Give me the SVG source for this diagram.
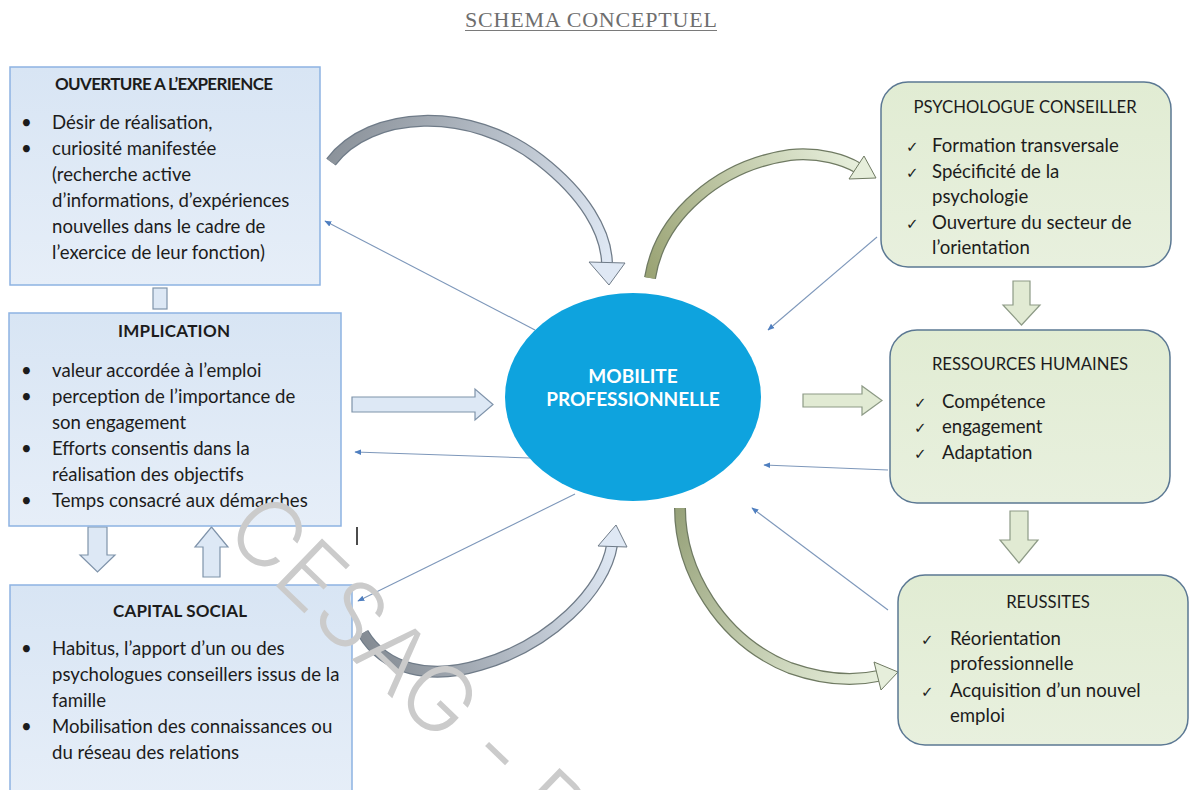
<svg xmlns="http://www.w3.org/2000/svg" width="1192" height="790" viewBox="0 0 1192 790">
  <style>
    .txt { font-family: Lato, "Liberation Sans", sans-serif; font-size: 18.6px; fill: #1c1c1c; }
    .ttl { font-family: Lato, "Liberation Sans", sans-serif; font-size: 17px; font-weight: bold; fill: #1c1c1c; }
    .rttl { font-family: Lato, "Liberation Sans", sans-serif; font-size: 16.7px; fill: #1c1c1c; }
    .chk { font-family: "DejaVu Sans", sans-serif; font-size: 15px; fill: #1c1c1c; }
    .lbox { fill: url(#blueFill); stroke: #8db3e2; stroke-width: 1.5; }
    .rbox { fill: url(#greenFill); stroke: #5b7893; stroke-width: 1.5; }
    .barrow-b { fill: #dde8f5; stroke: #7f93aa; stroke-width: 1.2; }
    .barrow-g { fill: #e1ead3; stroke: #8d9a86; stroke-width: 1.2; }
    .thin { fill: none; stroke: #7d97ba; stroke-width: 1.1; marker-end: url(#tip); }
    .wm { font-family: Inter, Roboto, "Liberation Sans", sans-serif; font-weight: 300; font-size: 91px; fill: #cbcbcb; }
  </style>
  <defs>
    <linearGradient id="blueFill" x1="0" y1="0" x2="0" y2="1">
      <stop offset="0" stop-color="#d8e5f4"/>
      <stop offset="1" stop-color="#e6eef8"/>
    </linearGradient>
    <linearGradient id="greenFill" x1="0" y1="0" x2="0" y2="1">
      <stop offset="0" stop-color="#e1ecd3"/>
      <stop offset="1" stop-color="#e8f0de"/>
    </linearGradient>
    <linearGradient id="gA" gradientUnits="userSpaceOnUse" x1="331" y1="160" x2="607" y2="262">
      <stop offset="0" stop-color="#8c939b"/>
      <stop offset="1" stop-color="#dfe8f4"/>
    </linearGradient>
    <linearGradient id="gB" gradientUnits="userSpaceOnUse" x1="650" y1="278" x2="858" y2="168">
      <stop offset="0" stop-color="#9aa374"/>
      <stop offset="1" stop-color="#e6eedb"/>
    </linearGradient>
    <linearGradient id="gC" gradientUnits="userSpaceOnUse" x1="363" y1="633" x2="612" y2="545">
      <stop offset="0" stop-color="#858c94"/>
      <stop offset="1" stop-color="#dfe8f4"/>
    </linearGradient>
    <linearGradient id="gD" gradientUnits="userSpaceOnUse" x1="680" y1="508" x2="878" y2="676">
      <stop offset="0" stop-color="#97a27a"/>
      <stop offset="1" stop-color="#e6eedb"/>
    </linearGradient>
    <marker id="tip" viewBox="0 0 10 10" refX="9" refY="5" markerWidth="7" markerHeight="7" orient="auto" markerUnits="userSpaceOnUse">
      <path d="M0,1 L10,5 L0,9 Z" fill="#4f7fc0"/>
    </marker>
  </defs>

  <rect x="0" y="0" width="1192" height="790" fill="#ffffff"/>

  <!-- heading -->
  <g id="heading">
    <text x="591" y="27" text-anchor="middle" textLength="252" font-family="'Liberation Serif', serif" font-size="22" fill="#6e6e6e">SCHEMA CONCEPTUEL</text>
    <line x1="465" y1="30.5" x2="717" y2="30.5" stroke="#7a7a7a" stroke-width="1"/>
  </g>

  <!-- connectors -->
  <g id="connectors">
    <!-- thin feedback arrows -->
    <path class="thin" d="M535,330 L325,221"/>
    <path class="thin" d="M877,237 L768,330"/>
    <path class="thin" d="M530,458 L355,452"/>
    <path class="thin" d="M888,470 L764,465"/>
    <path class="thin" d="M575,494 L358,601"/>
    <path class="thin" d="M888,610 L752,508"/>

    <!-- straight block arrows -->
    <polygon class="barrow-b" points="352,397 475,397 475,389 493,404.5 475,420 475,412 352,412"/>
    <polygon class="barrow-g" points="803,394 862,394 862,386 882,400.5 862,415 862,407 803,407"/>
    <polygon class="barrow-g" points="1013,281 1030,281 1030,305 1040,305 1021.5,325 1003,305 1013,305"/>
    <polygon class="barrow-g" points="1010,511 1028,511 1028,540 1038,540 1019,563 1000,540 1010,540"/>
    <polygon class="barrow-b" points="88,527 107,527 107,555 115,555 97.5,572 80,555 88,555"/>
    <polygon class="barrow-b" points="203,577 220,577 220,547 228,547 211.5,527 195,547 203,547"/>
    <rect class="barrow-b" x="153" y="288" width="14" height="21"/>

    <!-- curved block arrows -->
    <path d="M331,162 C370,110 470,105 540,160 C585,195 606,232 607,263" fill="none" stroke="#6f7b88" stroke-width="12"/>
    <path d="M331,162 C370,110 470,105 540,160 C585,195 606,232 607,263" fill="none" stroke="url(#gA)" stroke-width="9.5"/>
    <polygon points="589,262 625,263 609,285" fill="#dfe8f4" stroke="#6f7b88" stroke-width="1"/>

    <path d="M650,278 C660,215 720,165 790,155 C820,152 845,160 858,168" fill="none" stroke="#6f7a62" stroke-width="12"/>
    <path d="M650,278 C660,215 720,165 790,155 C820,152 845,160 858,168" fill="none" stroke="url(#gB)" stroke-width="9.5"/>
    <polygon points="864,156 876,178 849,179" fill="#e6eedb" stroke="#6f7a62" stroke-width="1"/>

    <path d="M363,633 C385,670 430,680 480,665 C550,645 605,590 612,545" fill="none" stroke="#6f7b88" stroke-width="12"/>
    <path d="M363,633 C385,670 430,680 480,665 C550,645 605,590 612,545" fill="none" stroke="url(#gC)" stroke-width="9.5"/>
    <polygon points="598,546 627,547 616,525" fill="#dfe8f4" stroke="#6f7b88" stroke-width="1"/>

    <path d="M680,508 C680,570 720,640 790,668 C830,682 860,680 878,676" fill="none" stroke="#6f7a62" stroke-width="12"/>
    <path d="M680,508 C680,570 720,640 790,668 C830,682 860,680 878,676" fill="none" stroke="url(#gD)" stroke-width="9.5"/>
    <polygon points="874,662 898,672 881,690" fill="#e6eedb" stroke="#6f7a62" stroke-width="1"/>

    <!-- stray cursor mark -->
    <line x1="357" y1="527" x2="357" y2="545" stroke="#111" stroke-width="1.5"/>
  </g>

  <!-- OUVERTURE A L'EXPERIENCE -->
  <g id="ouverture">
    <rect class="lbox" x="10" y="67" width="310" height="218"/>
    <text class="ttl" x="164" y="90" text-anchor="middle" textLength="218">OUVERTURE A L’EXPERIENCE</text>
    <text class="txt" x="21" y="129">•</text>
    <text class="txt" x="52" y="129">Désir de réalisation,</text>
    <text class="txt" x="21" y="155">•</text>
    <text class="txt" x="52" y="155">curiosité manifestée</text>
    <text class="txt" x="52" y="181">(recherche active</text>
    <text class="txt" x="52" y="207">d’informations, d’expériences</text>
    <text class="txt" x="52" y="233">nouvelles dans le cadre de</text>
    <text class="txt" x="52" y="259">l’exercice de leur fonction)</text>
  </g>

  <!-- IMPLICATION -->
  <g id="implication">
    <rect class="lbox" x="9" y="313" width="332" height="213"/>
    <text class="ttl" x="174" y="337" text-anchor="middle" textLength="112">IMPLICATION</text>
    <text class="txt" x="21" y="377">•</text>
    <text class="txt" x="52" y="377">valeur accordée à l’emploi</text>
    <text class="txt" x="21" y="403">•</text>
    <text class="txt" x="52" y="403">perception de l’importance de</text>
    <text class="txt" x="52" y="429">son engagement</text>
    <text class="txt" x="21" y="455">•</text>
    <text class="txt" x="52" y="455">Efforts consentis dans la</text>
    <text class="txt" x="52" y="481">réalisation des objectifs</text>
    <text class="txt" x="21" y="507">•</text>
    <text class="txt" x="52" y="507">Temps consacré aux démarches</text>
  </g>

  <!-- CAPITAL SOCIAL -->
  <g id="capital-social">
    <rect class="lbox" x="10" y="585" width="342" height="215"/>
    <text class="ttl" x="180" y="617" text-anchor="middle" textLength="134">CAPITAL SOCIAL</text>
    <text class="txt" x="21" y="655">•</text>
    <text class="txt" x="52" y="655">Habitus, l’apport d’un ou des</text>
    <text class="txt" x="52" y="681">psychologues conseillers issus de la</text>
    <text class="txt" x="52" y="707">famille</text>
    <text class="txt" x="21" y="733">•</text>
    <text class="txt" x="52" y="733">Mobilisation des connaissances ou</text>
    <text class="txt" x="52" y="759">du réseau des relations</text>
  </g>

  <!-- MOBILITE PROFESSIONNELLE -->
  <g id="mobilite">
    <ellipse cx="633" cy="397" rx="128" ry="104" fill="#0ea3de"/>
    <text x="633" y="383" text-anchor="middle" font-family="Lato, 'Liberation Sans', sans-serif" font-weight="bold" font-size="19" fill="#ffffff">MOBILITE</text>
    <text x="633" y="406" text-anchor="middle" font-family="Lato, 'Liberation Sans', sans-serif" font-weight="bold" font-size="19" fill="#ffffff">PROFESSIONNELLE</text>
  </g>

  <!-- PSYCHOLOGUE CONSEILLER -->
  <g id="psychologue">
    <rect class="rbox" x="881" y="82" width="290" height="185" rx="27"/>
    <text class="rttl" x="1025" y="113" text-anchor="middle">PSYCHOLOGUE CONSEILLER</text>
    <text class="chk" x="906" y="152">✓</text>
    <text class="txt" x="932" y="152">Formation transversale</text>
    <text class="chk" x="906" y="178">✓</text>
    <text class="txt" x="932" y="178">Spécificité de la</text>
    <text class="txt" x="932" y="203">psychologie</text>
    <text class="chk" x="906" y="229">✓</text>
    <text class="txt" x="932" y="229">Ouverture du secteur de</text>
    <text class="txt" x="932" y="254">l’orientation</text>
  </g>

  <!-- RESSOURCES HUMAINES -->
  <g id="ressources">
    <rect class="rbox" x="890" y="330" width="280" height="173" rx="27"/>
    <text class="rttl" x="1030" y="370" text-anchor="middle">RESSOURCES HUMAINES</text>
    <text class="chk" x="914" y="408">✓</text>
    <text class="txt" x="942" y="408">Compétence</text>
    <text class="chk" x="914" y="433">✓</text>
    <text class="txt" x="942" y="433">engagement</text>
    <text class="chk" x="914" y="459">✓</text>
    <text class="txt" x="942" y="459">Adaptation</text>
  </g>

  <!-- REUSSITES -->
  <g id="reussites">
    <rect class="rbox" x="898" y="575" width="290" height="170" rx="27"/>
    <text class="rttl" x="1048" y="608" text-anchor="middle">REUSSITES</text>
    <text class="chk" x="921" y="645">✓</text>
    <text class="txt" x="950" y="645">Réorientation</text>
    <text class="txt" x="950" y="670">professionnelle</text>
    <text class="chk" x="921" y="697">✓</text>
    <text class="txt" x="950" y="697">Acquisition d’un nouvel</text>
    <text class="txt" x="950" y="722">emploi</text>
  </g>

  <!-- watermark -->
  <text class="wm" transform="translate(222,534) rotate(44)">CESAG - B</text>
</svg>
